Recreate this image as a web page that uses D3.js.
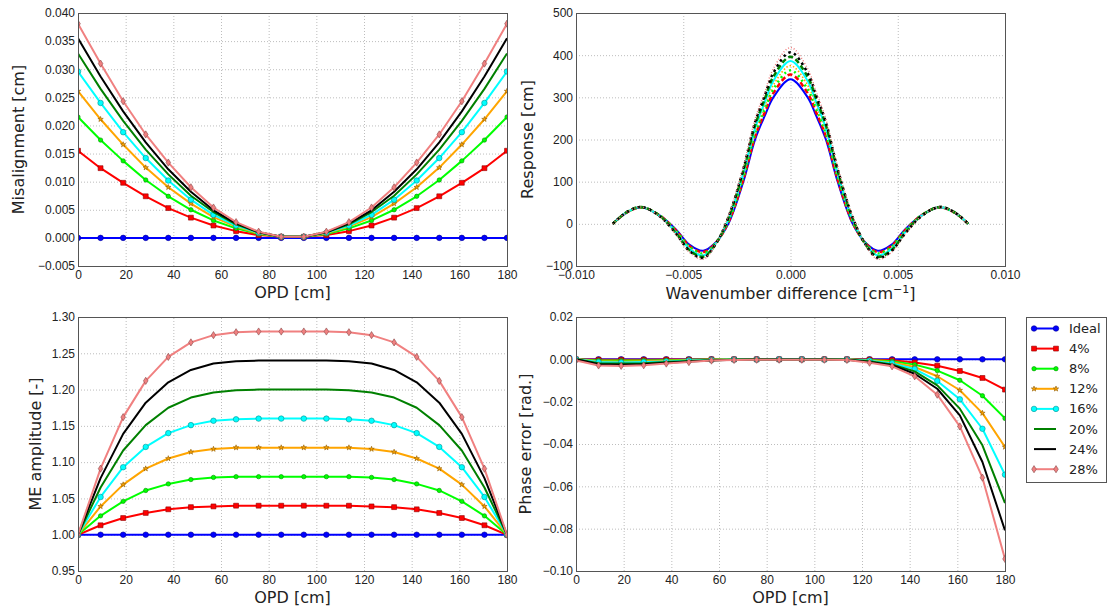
<!DOCTYPE html>
<html>
<head>
<meta charset="utf-8">
<script src="https://cdn.jsdelivr.net/npm/d3@7"></script>
<style>
  body { margin: 0; background: #fff; }
  svg { display: block; font-family: "DejaVu Sans", sans-serif; }
  .grid line { stroke: #bdbdbd; stroke-dasharray: 1,2; }
  .tick text { fill: #222; font-size: 12px; }
  .lbl { fill: #222; font-size: 16px; }
</style>
</head>
<body>
<svg id="chart" width="1111" height="613"></svg>
<script>
// series names and OPD sample positions
const names = ["Ideal", "4%", "8%", "12%", "16%", "20%", "24%", "28%"];
const opd = [0, 9.47, 18.95, 28.42, 37.89, 47.37, 56.84, 66.32, 75.79, 85.26,
  94.74, 104.21, 113.68, 123.16, 132.63, 142.11, 151.58, 161.05, 170.53, 180];

// misalignment [cm]
const misIdeal = [0,0,0,0,0,0,0,0,0,0,0,0,0,0,0,0,0,0,0,0];
const mis4  = [0.0155,0.0124,0.0098,0.0074,0.0053,0.0036,0.0022,0.0012,0.0005,0.0002,0.0002,0.0005,0.0012,0.0022,0.0036,0.0053,0.0074,0.0098,0.0124,0.0155];
const mis8  = [0.0215,0.0174,0.0137,0.0103,0.0074,0.0050,0.0031,0.0017,0.0007,0.0002,0.0002,0.0007,0.0017,0.0031,0.0050,0.0074,0.0103,0.0137,0.0174,0.0215];
const mis12 = [0.0261,0.0211,0.0166,0.0125,0.0090,0.0061,0.0037,0.0020,0.0008,0.0002,0.0002,0.0008,0.0020,0.0037,0.0061,0.0090,0.0125,0.0166,0.0211,0.0261];
const mis16 = [0.0296,0.0240,0.0188,0.0142,0.0102,0.0068,0.0041,0.0022,0.0009,0.0002,0.0002,0.0009,0.0022,0.0041,0.0068,0.0102,0.0142,0.0188,0.0240,0.0296];
const mis20 = [0.0328,0.0265,0.0208,0.0157,0.0113,0.0075,0.0046,0.0024,0.0010,0.0002,0.0002,0.0010,0.0024,0.0046,0.0075,0.0113,0.0157,0.0208,0.0265,0.0328];
const mis24 = [0.0355,0.0287,0.0225,0.0170,0.0122,0.0082,0.0049,0.0026,0.0010,0.0002,0.0002,0.0010,0.0026,0.0049,0.0082,0.0122,0.0170,0.0225,0.0287,0.0355];
const mis28 = [0.0381,0.0310,0.0243,0.0184,0.0134,0.0090,0.0054,0.0028,0.0011,0.0002,0.0002,0.0011,0.0028,0.0054,0.0090,0.0134,0.0184,0.0243,0.0310,0.0381];

// response [cm] vs wavenumber difference
const wave = [-0.00829,-0.0076,-0.00694,-0.0061,-0.00531,-0.0047,-0.00407,-0.0035,-0.0029,-0.0022,-0.00165,-0.0012,-0.0008,0,
  0.0008,0.0012,0.00165,0.0022,0.0029,0.0035,0.00407,0.0047,0.00531,0.0061,0.00694,0.0076,0.00829];
const respIdeal = [0,28,39,20,-15,-50,-64,-45,0,100,200,256,300,343,300,256,200,100,0,-45,-64,-50,-15,20,39,28,0];
const resp4  = [0,28,39,20,-17,-53,-67,-46,3,105,207,264,310,354,310,264,207,105,3,-46,-67,-53,-17,20,39,28,0];
const resp8  = [0,28,39,20,-18,-55,-70,-46,5,110,214,272,319,364,319,272,214,110,5,-46,-70,-55,-18,20,39,28,0];
const resp12 = [0,28,39,19,-20,-58,-73,-47,8,115,221,280,329,375,329,280,221,115,8,-47,-73,-58,-20,19,39,28,0];
const resp16 = [0,29,40,19,-22,-60,-75,-48,10,120,227,288,339,386,339,288,227,120,10,-48,-75,-60,-22,19,40,29,0];
const resp20 = [0,29,40,19,-24,-63,-78,-49,13,125,234,296,349,396,349,296,234,125,13,-49,-78,-63,-24,19,40,29,0];
const resp24 = [0,29,40,18,-25,-65,-81,-49,15,130,241,304,358,407,358,304,241,130,15,-49,-81,-65,-25,18,40,29,0];
const resp28 = [0,29,40,18,-27,-68,-84,-50,18,135,248,312,368,418,368,312,248,135,18,-50,-84,-68,-27,18,40,29,0];

// ME amplitude [-]
const ampIdeal = [1,1,1,1,1,1,1,1,1,1,1,1,1,1,1,1,1,1,1,1];
const amp4  = [1.000,1.013,1.023,1.030,1.035,1.038,1.039,1.040,1.040,1.040,1.040,1.040,1.040,1.039,1.038,1.035,1.030,1.023,1.013,1.000];
const amp8  = [1.000,1.026,1.046,1.061,1.070,1.076,1.079,1.080,1.080,1.080,1.080,1.080,1.080,1.079,1.076,1.070,1.061,1.046,1.026,1.000];
const amp12 = [1.000,1.039,1.069,1.091,1.105,1.114,1.118,1.120,1.120,1.120,1.120,1.120,1.120,1.118,1.114,1.105,1.091,1.069,1.039,1.000];
const amp16 = [1.000,1.052,1.093,1.121,1.140,1.151,1.157,1.159,1.160,1.160,1.160,1.160,1.159,1.157,1.151,1.140,1.121,1.093,1.052,1.000];
const amp20 = [1.000,1.065,1.116,1.151,1.175,1.189,1.196,1.199,1.200,1.200,1.200,1.200,1.199,1.196,1.189,1.175,1.151,1.116,1.065,1.000];
const amp24 = [1.000,1.078,1.139,1.182,1.210,1.227,1.236,1.239,1.240,1.240,1.240,1.240,1.239,1.236,1.227,1.210,1.182,1.139,1.078,1.000];
const amp28 = [1.000,1.091,1.162,1.212,1.245,1.265,1.275,1.279,1.280,1.280,1.280,1.280,1.279,1.275,1.265,1.245,1.212,1.162,1.091,1.000];

// phase error [rad.]
const phIdeal = [0,0,0,0,0,0,0,0,0,0,0,0,0,0,0,0,0,0,0,0];
const ph4  = [0,-0.0002,-0.0002,-0.0002,-0.0001,-0.0001,0,0,0,0,0,0,0,-0.0001,-0.0004,-0.0015,-0.0030,-0.0055,-0.0088,-0.0143];
const ph8  = [0,-0.0005,-0.0006,-0.0005,-0.0004,-0.0002,-0.0001,0,0,0,0,0,-0.0001,-0.0003,-0.0009,-0.0025,-0.0053,-0.0099,-0.0172,-0.0279];
const ph12 = [0,-0.0009,-0.0011,-0.0009,-0.0007,-0.0004,-0.0002,-0.0001,0,0,0,0,-0.0001,-0.0005,-0.0014,-0.0036,-0.0080,-0.0146,-0.0254,-0.0414];
const ph16 = [0,-0.0013,-0.0015,-0.0013,-0.0010,-0.0006,-0.0003,-0.0001,-0.0001,0,0,-0.0001,-0.0001,-0.0007,-0.0019,-0.0046,-0.0102,-0.0189,-0.0328,-0.0545];
const ph20 = [0,-0.0018,-0.0020,-0.0018,-0.0013,-0.0008,-0.0004,-0.0002,-0.0001,-0.0001,-0.0001,-0.0001,-0.0002,-0.0009,-0.0024,-0.0057,-0.0123,-0.0233,-0.0406,-0.0679];
const ph24 = [0,-0.0023,-0.0025,-0.0023,-0.0016,-0.0010,-0.0005,-0.0002,-0.0001,-0.0001,-0.0001,-0.0001,-0.0002,-0.0012,-0.0028,-0.0068,-0.0139,-0.0265,-0.0485,-0.0808];
const ph28 = [-0.0005,-0.0029,-0.0031,-0.0028,-0.0020,-0.0013,-0.0006,-0.0003,-0.0002,-0.0002,-0.0002,-0.0002,-0.0003,-0.0016,-0.0033,-0.0080,-0.0167,-0.0317,-0.0559,-0.0943];

// tick values
const opdTicks = [0, 20, 40, 60, 80, 100, 120, 140, 160, 180];
const misTicks = [-0.005, 0, 0.005, 0.01, 0.015, 0.02, 0.025, 0.03, 0.035, 0.04];
const waveTicks = [-0.01, -0.005, 0, 0.005, 0.01];
const respTicks = [-100, 0, 100, 200, 300, 400, 500];
const ampTicks = [0.95, 1.0, 1.05, 1.1, 1.15, 1.2, 1.25, 1.3];
const phTicks = [-0.1, -0.08, -0.06, -0.04, -0.02, 0, 0.02];

// styles
const colors = ["#0000ff", "#ff0000", "#00ff00", "#ffa500", "#00ffff", "#008000", "#000000", "#f08080"];
const markers = ["circle", "square", "circleSmall", "star", "circle", null, null, "diamond"];
const respDash = [null, "5,3", "2,3.5", "1.5,2", null, "5,3", "2.5,3.5", "1,2"];
const respWidth = [2, 2.5, 2.5, 1.6, 2, 2.5, 2.5, 1.5];

const svg = d3.select("#chart");
svg.append("rect").attr("width", 1111).attr("height", 613).attr("fill", "#fff");

let clipCount = 0;
function makePanel(box, xDom, yDom, xTicks, yTicks, xFmt, yFmt) {
  const x = d3.scaleLinear().domain(xDom).range([box.x, box.x + box.w]);
  const y = d3.scaleLinear().domain(yDom).range([box.y + box.h, box.y]);
  const g = svg.append("g");

  // dotted grid
  g.append("g").attr("class", "grid")
    .attr("transform", `translate(0,${box.y + box.h})`)
    .call(d3.axisBottom(x).tickValues(xTicks).tickSize(-box.h).tickFormat(""))
    .call(s => s.select(".domain").remove());
  g.append("g").attr("class", "grid")
    .attr("transform", `translate(${box.x},0)`)
    .call(d3.axisLeft(y).tickValues(yTicks).tickSize(-box.w).tickFormat(""))
    .call(s => s.select(".domain").remove());

  const id = "clip" + (clipCount++);
  svg.append("clipPath").attr("id", id).append("rect")
    .attr("x", box.x).attr("y", box.y - 4).attr("width", box.w).attr("height", box.h + 8);
  const data = g.append("g").attr("clip-path", `url(#${id})`);
  const top = g.append("g");

  top.append("rect")
    .attr("x", box.x + 0.5).attr("y", box.y + 0.5)
    .attr("width", box.w).attr("height", box.h)
    .attr("fill", "none").attr("stroke", "#555").attr("stroke-width", 1);

  top.append("g")
    .attr("transform", `translate(0,${box.y + box.h})`)
    .call(d3.axisBottom(x).tickValues(xTicks).tickSize(0).tickPadding(4).tickFormat(xFmt))
    .call(s => s.select(".domain").remove());
  top.append("g")
    .attr("transform", `translate(${box.x},0)`)
    .call(d3.axisLeft(y).tickValues(yTicks).tickSize(0).tickPadding(3).tickFormat(yFmt))
    .call(s => s.select(".domain").remove());
  top.selectAll(".tick text").attr("font-family", null).attr("font-size", null);

  return { x, y, data, top, box };
}

function marker(g, type, color, cx, cy) {
  if (!type) return;
  const edge = d3.color(color).darker(1.6);
  let path;
  if (type === "circle") path = d3.symbol(d3.symbolCircle, 24)();
  else if (type === "circleSmall") path = d3.symbol(d3.symbolCircle, 15)();
  else if (type === "square") path = d3.symbol(d3.symbolSquare, 24)();
  else if (type === "star") path = d3.symbol(d3.symbolStar, 9)();
  else path = "M0,-3.6L2.3,0L0,3.6L-2.3,0Z";
  g.append("path").attr("d", path)
    .attr("transform", `translate(${cx},${cy})`)
    .attr("fill", color).attr("stroke", edge).attr("stroke-width", 0.6);
}

function series(p, xs, ys, k, withMarkers) {
  const pts = xs.map((v, i) => [v, ys[i]]);
  const line = d3.line().x(d => p.x(d[0])).y(d => p.y(d[1]));
  p.data.append("path").attr("d", line(pts))
    .attr("fill", "none").attr("stroke", colors[k]).attr("stroke-width", 2)
    .attr("stroke-linejoin", "round");
  if (withMarkers) pts.forEach(d => marker(p.data, markers[k], colors[k], p.x(d[0]), p.y(d[1])));
}

function xLabel(p, text, yPos) {
  return p.top.append("text").attr("class", "lbl")
    .attr("x", p.box.x + p.box.w / 2).attr("y", yPos)
    .attr("text-anchor", "middle").attr("dy", "0.35em").text(text);
}
function yLabel(p, text, xPos) {
  const cy = p.box.y + p.box.h / 2;
  p.top.append("text").attr("class", "lbl")
    .attr("transform", `translate(${xPos},${cy}) rotate(-90)`)
    .attr("text-anchor", "middle").attr("dy", "0.35em").text(text);
}

// --- top-left: misalignment
const pTL = makePanel({ x: 78, y: 13, w: 429, h: 253 }, [0, 180], [-0.005, 0.04],
  opdTicks, misTicks, d3.format("d"), d3.format(".3f"));
[misIdeal, mis4, mis8, mis12, mis16, mis20, mis24, mis28].forEach((ys, k) => series(pTL, opd, ys, k, true));
xLabel(pTL, "OPD [cm]", 292);
yLabel(pTL, "Misalignment [cm]", 18);

// --- top-right: response
const pTR = makePanel({ x: 576, y: 13, w: 429, h: 253 }, [-0.01, 0.01], [-100, 500],
  waveTicks, respTicks, d3.format(".3f"), d3.format("d"));
[respIdeal, resp4, resp8, resp12, resp16, resp20, resp24, resp28].forEach((ys, k) => {
  const line = d3.line().curve(d3.curveCatmullRom).x((d, i) => pTR.x(wave[i])).y(d => pTR.y(d));
  pTR.data.append("path").attr("d", line(ys))
    .attr("fill", "none").attr("stroke", colors[k]).attr("stroke-width", respWidth[k])
    .attr("stroke-dasharray", respDash[k]);
});
const wl = xLabel(pTR, "Wavenumber difference [cm", 293);
wl.append("tspan").attr("font-size", "11px").attr("dy", "-6").text("\u22121");
wl.append("tspan").attr("dy", "6").text("]");
yLabel(pTR, "Response [cm]", 527);

// --- bottom-left: ME amplitude
const pBL = makePanel({ x: 78, y: 317, w: 429, h: 254 }, [0, 180], [0.95, 1.3],
  opdTicks, ampTicks, d3.format("d"), d3.format(".2f"));
[ampIdeal, amp4, amp8, amp12, amp16, amp20, amp24, amp28].forEach((ys, k) => series(pBL, opd, ys, k, true));
xLabel(pBL, "OPD [cm]", 597);
yLabel(pBL, "ME amplitude [-]", 35);

// --- bottom-right: phase error
const pBR = makePanel({ x: 576, y: 317, w: 429, h: 254 }, [0, 180], [-0.1, 0.02],
  opdTicks, phTicks, d3.format("d"), d3.format(".2f"));
[phIdeal, ph4, ph8, ph12, ph16, ph20, ph24, ph28].forEach((ys, k) => series(pBR, opd, ys, k, true));
xLabel(pBR, "OPD [cm]", 597);
yLabel(pBR, "Phase error [rad.]", 525);

// --- legend
const leg = svg.append("g");
leg.append("rect").attr("x", 1026.5).attr("y", 317.5).attr("width", 80).attr("height", 165)
  .attr("fill", "#fff").attr("stroke", "#555");
names.forEach((n, k) => {
  const cy = 328.5 + k * 20.1;
  leg.append("line").attr("x1", 1034).attr("x2", 1056).attr("y1", cy).attr("y2", cy)
    .attr("stroke", colors[k]).attr("stroke-width", 2);
  marker(leg, markers[k], colors[k], 1034, cy);
  marker(leg, markers[k], colors[k], 1056, cy);
  leg.append("text").attr("x", 1069).attr("y", cy).attr("dy", "0.35em")
    .attr("font-size", "13px").attr("fill", "#222").text(n);
});
</script>
</body>
</html>
